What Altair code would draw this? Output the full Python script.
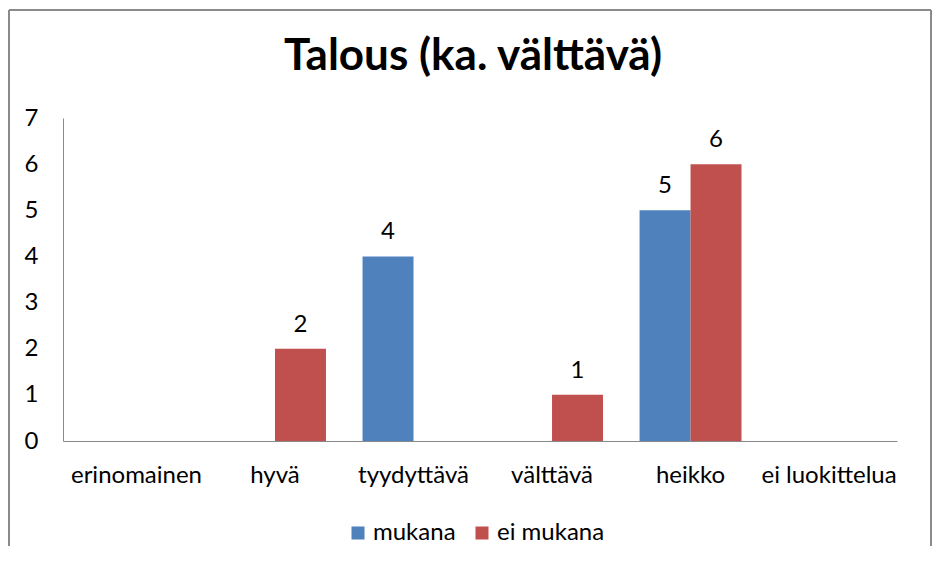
import altair as alt
import pandas as pd

categories = ["erinomainen", "hyvä", "tyydyttävä", "välttävä", "heikko", "ei luokittelua"]
series = ["mukana", "ei mukana"]
mukana = [0, 0, 4, 0, 5, 0]
ei_mukana = [0, 2, 0, 1, 6, 0]
y_ticks = [0, 1, 2, 3, 4, 5, 6, 7]
colors = ["#4F81BD", "#C0504D"]
title_text = "Talous (ka. välttävä)"

rows = []
for i, c in enumerate(categories):
    rows.append({"kategoria": c, "sarja": "mukana", "arvo": mukana[i]})
    rows.append({"kategoria": c, "sarja": "ei mukana", "arvo": ei_mukana[i]})
df = pd.DataFrame(rows)
single = pd.DataFrame({"otsikko": [title_text]})

FONT = "Lato"
FS = 24
AXIS_GRAY = "#8a8a8a"

x = alt.X(
    "kategoria:N",
    sort=categories,
    scale=alt.Scale(paddingInner=0.264, paddingOuter=0.1426, align=0.57),
    axis=alt.Axis(title=None, labelAngle=0, ticks=False, domainColor=AXIS_GRAY,
                  labelFontSize=FS, labelPadding=22, labelFont=FONT,
                  labelColor="#000000"),
)
y = alt.Y(
    "arvo:Q",
    scale=alt.Scale(domain=[0, 7], nice=False),
    axis=alt.Axis(title=None, values=y_ticks, grid=False, ticks=False,
                  domainColor=AXIS_GRAY, labelFontSize=FS, labelPadding=25,
                  labelFont=FONT, labelColor="#000000", format="d"),
)
xoff = alt.XOffset("sarja:N", sort=series,
                   scale=alt.Scale(domain=series, paddingInner=0, paddingOuter=0))
color = alt.Color(
    "sarja:N",
    sort=series,
    scale=alt.Scale(domain=series, range=colors),
    legend=alt.Legend(title=None, orient="none", legendX=283, legendY=403,
                      direction="horizontal", symbolType="square", symbolSize=169,
                      symbolStrokeWidth=0, labelFontSize=FS, labelFont=FONT,
                      labelColor="#000000", columnPadding=14, labelOffset=3,
                      padding=0),
)

base = alt.Chart(df)
bars = base.mark_bar().encode(x=x, xOffset=xoff, y=y, color=color)
labels = base.transform_filter("datum.arvo > 0").mark_text(
    baseline="alphabetic", dy=-17, fontSize=FS, font=FONT, color="#000000"
).encode(x=x, xOffset=xoff, y=y, text=alt.Text("arvo:Q", format="d"))

one = alt.Chart(single)
title = one.mark_text(
    baseline="alphabetic", align="center", fontSize=44, font=FONT,
    fontWeight="bold", fill="#000000"
).encode(x=alt.value(410), y=alt.value(-48), text=alt.Text("otsikko:N"))

frame_left = one.mark_rule(color=AXIS_GRAY, strokeWidth=2).encode(
    x=alt.value(-54), y=alt.value(-108), y2=alt.value(430))
frame_right = one.mark_rule(color=AXIS_GRAY, strokeWidth=2).encode(
    x=alt.value(868), y=alt.value(-108), y2=alt.value(430))
frame_top = one.mark_rule(color=AXIS_GRAY, strokeWidth=2).encode(
    x=alt.value(-54), x2=alt.value(868), y=alt.value(-108))

chart = alt.layer(frame_left, frame_right, frame_top, title, bars, labels).properties(
    width=834,
    height=323,
    padding={"left": 55, "top": 110, "right": 36, "bottom": 105},
    autosize=alt.AutoSizeParams(type="none"),
).configure_view(stroke=None)

chart.save("out.html", embed_options={"renderer": "svg", "actions": False})
